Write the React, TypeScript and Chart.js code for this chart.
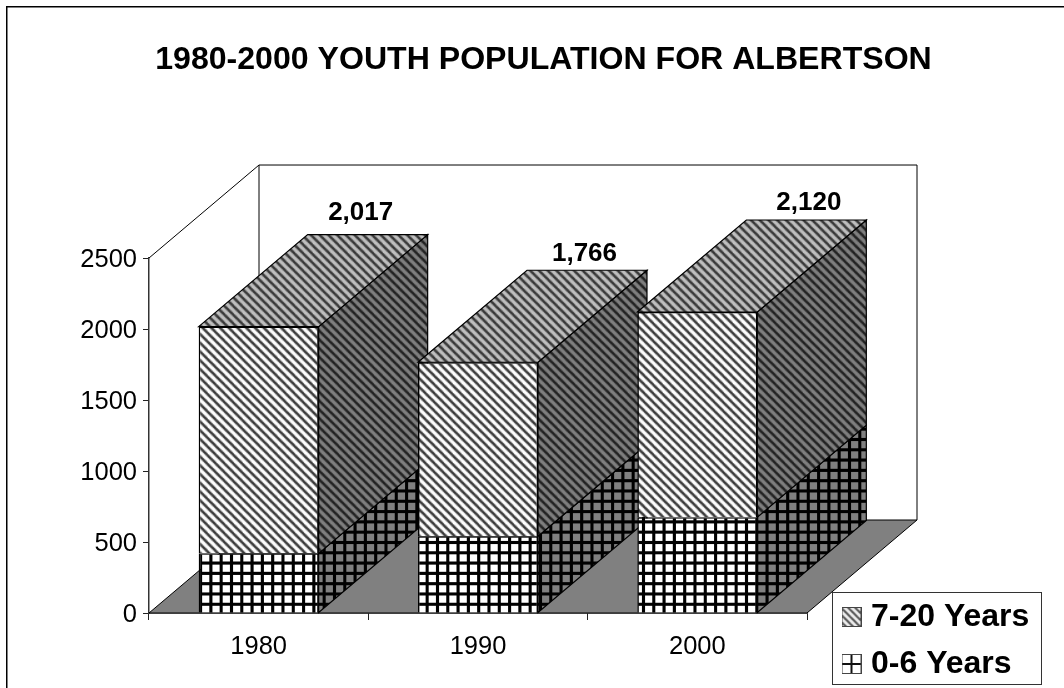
import React, { useEffect, useRef } from "react";
import { Chart, registerables } from "chart.js";

Chart.register(...registerables);

const chartTitle = "1980-2000 YOUTH POPULATION FOR ALBERTSON";
const years = ["1980", "1990", "2000"];
const youngChildren = [420, 540, 675];
const olderYouth = [1597, 1226, 1445];
const valueTicks = [0, 500, 1000, 1500, 2000, 2500];

const SANS = '"Liberation Sans", Arial, sans-serif';
const STRIPE_PERIOD = 7;
const STRIPE_SCALE = 1.25;
const LATTICE_PERIOD = 10;
const LATTICE_SCALE = 1.03;

// Depth of the fake 3D extrusion, in pixels.
const WALL_DEPTH = { dx: 110, dy: -93 };
const BAR_DEPTH = { dx: 109, dy: -92 };
const TOTAL_LABEL_SHIFT = [102, 106.5, 111.5];
const TOTAL_LABEL_LIFT = [114, 108, 109];

function makeTile(paint: (c: CanvasRenderingContext2D, s: number) => void, size: number) {
  const tile = document.createElement("canvas");
  tile.width = size;
  tile.height = size;
  const c = tile.getContext("2d")!;
  paint(c, size);
  return tile;
}

function stripes(base: string, ink: string, weight: number) {
  return makeTile((c, s) => {
    c.fillStyle = base;
    c.fillRect(0, 0, s, s);
    c.strokeStyle = ink;
    c.lineWidth = weight;
    for (const off of [-s, 0, s]) {
      c.beginPath();
      c.moveTo(off - 2, -2);
      c.lineTo(off + s + 2, s + 2);
      c.stroke();
    }
  }, STRIPE_PERIOD);
}

function lattice(base: string, ink: string, weight: number) {
  return makeTile((c, s) => {
    c.fillStyle = base;
    c.fillRect(0, 0, s, s);
    c.fillStyle = ink;
    c.fillRect(0, 0, s, weight);
    c.fillRect(0, 0, weight, s);
  }, LATTICE_PERIOD);
}

function repeat(tile: HTMLCanvasElement, scale = 1) {
  const pattern = document.createElement("canvas").getContext("2d")!.createPattern(tile, "repeat")!;
  pattern.setTransform(new DOMMatrix().translate(199, 613).scale(scale));
  return pattern;
}

function legendSwatch(kind: "stripes" | "lattice") {
  return makeTile((c, s) => {
    c.fillStyle = "#ffffff";
    c.fillRect(0, 0, s, s);
    if (kind === "stripes") {
      c.fillStyle = repeat(stripes("#ececec", "#5a5a5a", 2.2));
      c.fillRect(0, 0, s, s);
    } else {
      c.fillStyle = "#111111";
      c.fillRect(s / 2 - 1, 0, 2, s);
      c.fillRect(0, s / 2 - 1, s, 2);
    }
    c.strokeStyle = "#444444";
    c.lineWidth = 1;
    c.strokeRect(0.5, 0.5, s - 1, s - 1);
  }, 20);
}

function polygon(c: CanvasRenderingContext2D, pts: number[][], fill: any) {
  c.beginPath();
  pts.forEach(([x, y], i) => (i ? c.lineTo(x, y) : c.moveTo(x, y)));
  c.closePath();
  c.fillStyle = fill;
  c.fill();
  c.stroke();
}

const extrudedBars = {
  id: "extrudedBars",
  afterLayout(chart: any) {
    const title = chart.titleBlock;
    title.left = 0;
    title.right = 1087;
    const legend = chart.legend;
    legend.left = 833;
    legend.right = 1050;
    legend.top = 586;
    legend.bottom = 760;
  },
  beforeDraw(chart: any) {
    const c = chart.ctx as CanvasRenderingContext2D;
    c.save();
    c.fillStyle = "#ffffff";
    c.fillRect(0, 0, chart.width, chart.height);
    c.strokeStyle = "#000000";
    c.lineWidth = 1.5;
    c.beginPath();
    c.moveTo(6.75, chart.height);
    c.lineTo(6.75, 6.75);
    c.lineTo(chart.width, 6.75);
    c.stroke();
    // Frame of the legend, underneath the legend's own layer.
    c.strokeStyle = "#333333";
    c.lineWidth = 1;
    c.strokeRect(832.5, 592.5, 209, 92);
    c.restore();
  },
  beforeDatasetsDraw(chart: any, _a: any, opts: any) {
    const c = chart.ctx as CanvasRenderingContext2D;
    const { left, right, top, bottom } = chart.chartArea;
    const { dx, dy } = WALL_DEPTH;
    c.save();
    c.strokeStyle = "#000000";
    c.lineWidth = 1;
    // Back wall and its slanted top edge.
    c.beginPath();
    c.moveTo(left, top);
    c.lineTo(left + dx, top + dy);
    c.lineTo(right + dx, top + dy);
    c.lineTo(right + dx, bottom + dy);
    c.moveTo(left + dx, top + dy);
    c.lineTo(left + dx, bottom + dy);
    c.stroke();
    // Floor.
    polygon(c, [[left, bottom], [left + dx, bottom + dy], [right + dx, bottom + dy], [right, bottom]], "#808080");
    // Side and top faces, left to right so that later bars overlap earlier ones.
    c.lineWidth = 1.2;
    years.forEach((_, j) => {
      chart.data.datasets.forEach((_d: any, i: number) => {
        const bar = chart.getDatasetMeta(i).data[j];
        const x0 = bar.x - bar.width / 2;
        const x1 = bar.x + bar.width / 2;
        const d = BAR_DEPTH;
        polygon(c, [[x1, bar.base], [x1 + d.dx, bar.base + d.dy], [x1 + d.dx, bar.y + d.dy], [x1, bar.y]], opts.sides[i]);
        if (i === chart.data.datasets.length - 1) {
          polygon(c, [[x0, bar.y], [x0 + d.dx, bar.y + d.dy], [x1 + d.dx, bar.y + d.dy], [x1, bar.y]], opts.roof);
        }
      });
    });
    c.restore();
  },
  afterDatasetsDraw(chart: any) {
    const c = chart.ctx as CanvasRenderingContext2D;
    c.save();
    // Totals above each stack.
    c.font = `bold 26px ${SANS}`;
    c.fillStyle = "#000000";
    c.textAlign = "center";
    c.textBaseline = "middle";
    const topBars = chart.getDatasetMeta(chart.data.datasets.length - 1).data;
    years.forEach((_, j) => {
      const total = youngChildren[j] + olderYouth[j];
      c.fillText(total.toLocaleString("en-US"), topBars[j].x + TOTAL_LABEL_SHIFT[j], topBars[j].y - TOTAL_LABEL_LIFT[j]);
    });
    c.restore();
  },
};

export default function App() {
  const ref = useRef<HTMLCanvasElement>(null);

  useEffect(() => {
    const swatches = [legendSwatch("lattice"), legendSwatch("stripes")];
    const chart = new Chart(ref.current!, {
      type: "bar",
      data: {
        labels: years,
        datasets: [
          {
            label: "0-6 Years",
            data: youngChildren,
            backgroundColor: repeat(lattice("#ffffff", "#000000", 3), LATTICE_SCALE),
            borderColor: "#000000",
            borderWidth: 1.5,
          },
          {
            label: "7-20 Years",
            data: olderYouth,
            backgroundColor: repeat(stripes("#ffffff", "#333333", 2), STRIPE_SCALE),
            borderColor: "#000000",
            borderWidth: 1.5,
          },
        ],
      },
      options: {
        responsive: false,
        animation: false,
        layout: { padding: { right: 257 } },
        datasets: { bar: { barPercentage: 0.547, categoryPercentage: 1 } },
        scales: {
          x: {
            stacked: true,
            afterFit: (s: any) => {
              s.height = 75;
            },
            border: { color: "#000000", width: 1.5 },
            grid: { drawOnChartArea: false, color: "#222222", tickLength: 7 },
            ticks: { color: "#000000", font: { family: SANS, size: 25.5 }, padding: 12 },
          },
          y: {
            stacked: true,
            min: 0,
            max: 2500,
            afterFit: (s: any) => {
              s.width = 149;
            },
            afterBuildTicks: (s: any) => {
              s.ticks = valueTicks.map((value) => ({ value }));
            },
            border: { color: "#333333", width: 1.5 },
            grid: { drawOnChartArea: false, color: "#222222", tickLength: 6 },
            ticks: {
              color: "#000000",
              font: { family: SANS, size: 25.5 },
              padding: 6,
              labelOffset: 1.5,
              callback: (v: any) => String(v),
            },
          },
        },
        plugins: {
          title: {
            display: true,
            text: chartTitle,
            color: "#000000",
            font: { family: SANS, size: 32.1, weight: "bold" },
            padding: { top: 41, bottom: 178.5 },
          },
          legend: {
            position: "chartArea",
            align: "start",
            reverse: true,
            labels: {
              color: "#000000",
              font: { family: SANS, size: 32, weight: "bold" },
              usePointStyle: true,
              boxWidth: 7,
              boxHeight: 7,
              padding: 15,
              generateLabels: (ch: any) =>
                Chart.defaults.plugins.legend.labels.generateLabels(ch).map((item: any) => ({
                  ...item,
                  pointStyle: swatches[item.datasetIndex],
                })),
            },
          },
          tooltip: { enabled: false },
          extrudedBars: {
            sides: [
              repeat(lattice("#808080", "#000000", 3), LATTICE_SCALE),
              repeat(stripes("#808080", "#1e1e1e", 2), STRIPE_SCALE),
            ],
            roof: repeat(stripes("#c0c0c0", "#333333", 2), STRIPE_SCALE),
          },
        },
      } as any,
      plugins: [extrudedBars as any],
    });
    return () => chart.destroy();
  }, []);

  return (
    <div style={{ position: "fixed", left: 0, top: 0, width: 1064, height: 688 }}>
      <canvas ref={ref} width={1064} height={688} style={{ display: "block" }} />
    </div>
  );
}
